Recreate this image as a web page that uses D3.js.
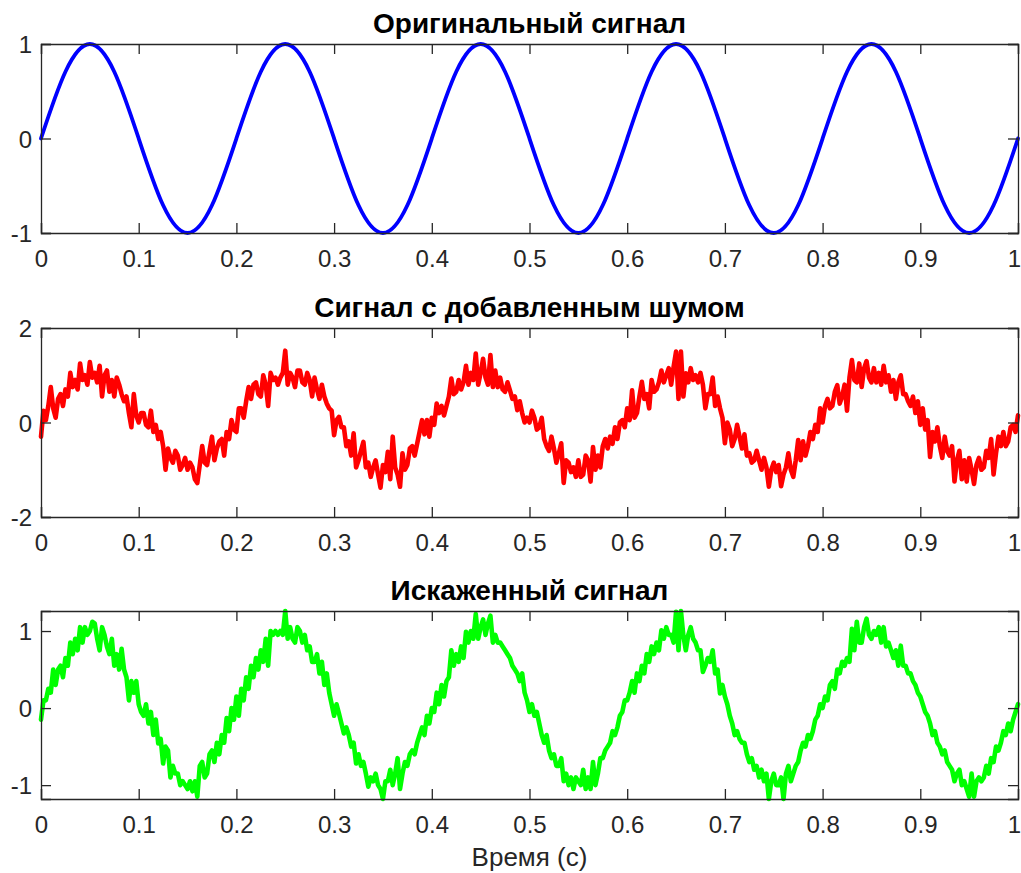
<!DOCTYPE html>
<html><head><meta charset="utf-8">
<script src="https://cdn.jsdelivr.net/npm/d3@7"></script>
<style>body{margin:0;background:#fff}svg{display:block}</style>
</head><body>
<svg id="chart" width="1021" height="873"></svg>
<script>
// ---- data ----
const panelTitles = ["Оригинальный сигнал", "Сигнал с добавленным шумом", "Искаженный сигнал"];
const xLabel = "Время (с)";
const xTicks = [0, 0.1, 0.2, 0.3, 0.4, 0.5, 0.6, 0.7, 0.8, 0.9, 1];
const yTicks1 = [-1, 0, 1];
const yTicks2 = [-2, 0, 2];
const yTicks3 = [-1, 0, 1];
const yLim1 = [-1, 1];
const yLim2 = [-2, 2];
const yLim3 = [-1.18, 1.26];

// original signal, sampled every 0.025 s
const origStep = 0.025;
const original = [
  0, 0.707, 1, 0.707, 0, -0.707, -1, -0.707,
  0, 0.707, 1, 0.707, 0, -0.707, -1, -0.707,
  0, 0.707, 1, 0.707, 0, -0.707, -1, -0.707,
  0, 0.707, 1, 0.707, 0, -0.707, -1, -0.707,
  0, 0.707, 1, 0.707, 0, -0.707, -1, -0.707,
  0
];

const noisyStep = 0.0025;
const noisy = [
  -0.3,0.25,0.05,0.35,0.75,0.3,0.1,0.5,0.6,0.35,0.7,0.55,1.05,0.75,0.9,0.7,1.25,0.9,1.0,0.8,
  1.28,0.95,1.05,0.85,1.2,0.55,1.0,1.1,0.65,0.9,0.55,0.95,0.8,0.6,0.45,0.55,0.2,-0.1,0.6,0.15,
  0.0,0.2,0.2,-0.05,-0.1,0.25,-0.2,-0.05,-0.35,-0.2,-0.5,-1.0,-0.55,-0.75,-0.85,-0.6,-0.7,-1.0,-0.9,-0.75,
  -1.0,-0.85,-0.95,-1.2,-1.28,-0.9,-0.5,-0.85,-0.9,-0.6,-0.3,-0.8,-0.55,-0.4,-0.35,-0.7,-0.2,-0.35,0.05,-0.15,
  -0.2,0.3,0.3,0.1,0.45,0.75,0.5,0.8,0.85,0.6,0.55,1.0,0.8,0.35,1.05,0.9,0.95,0.8,0.95,1.05,
  1.52,0.8,1.05,0.95,0.75,1.1,1.1,0.85,0.8,1.05,0.9,0.55,0.95,0.7,0.5,0.8,0.55,0.4,0.3,0.25,
  -0.27,0.05,0.12,-0.1,-0.1,-0.5,-0.4,-0.7,-0.23,-0.95,-0.8,-0.6,-0.41,-0.95,-0.85,-1.15,-0.95,-0.8,-1.1,-1.38,
  -0.9,-1.05,-0.62,-1.2,-0.3,-0.95,-1.1,-1.36,-0.65,-1.0,-0.9,-0.55,-0.5,-0.7,-0.45,-0.2,0.05,-0.25,0.05,-0.3,
  0.1,-0.05,0.4,0.2,0.35,0.15,0.35,0.55,0.93,0.6,0.65,0.9,0.7,0.85,1.2,0.8,1.05,0.9,1.46,0.8,
  1.05,1.35,0.95,0.8,1.43,0.75,1.1,0.75,0.95,0.7,0.65,0.85,0.68,0.5,0.55,0.26,0.45,0.2,0.0,0.1,
  0.0,0.25,0.1,-0.15,-0.1,0.1,-0.35,-0.5,-0.6,-0.3,-0.55,-0.85,-0.65,-0.44,-1.28,-0.8,-0.85,-1.05,-0.95,-1.15,
  -0.8,-1.15,-1.1,-0.7,-0.8,-1.25,-0.52,-1.0,-0.7,-0.95,-0.5,-0.35,-0.55,-0.3,-0.45,-0.1,-0.35,0.0,0.05,-0.1,
  0.3,0.05,0.68,0.1,0.2,0.55,0.86,0.5,0.6,0.3,0.9,0.65,0.7,0.85,1.1,0.85,1.0,1.15,0.8,1.18,
  1.5,0.5,1.5,0.55,1.04,0.85,1.15,0.9,1.0,0.85,1.05,0.8,0.3,0.6,0.6,0.95,0.35,0.55,0.3,0.1,
  -0.44,0.0,-0.15,-0.5,-0.35,-0.05,-0.3,-0.55,-0.25,-0.7,-0.65,-0.85,-0.8,-0.6,-0.8,-1.0,-0.75,-0.95,-1.36,-1.0,
  -0.85,-1.05,-0.9,-1.35,-1.1,-0.95,-0.65,-1.0,-1.15,-0.8,-0.37,-0.8,-0.4,-0.7,-0.5,-0.2,-0.35,-0.05,-0.2,0.3,
  0.0,0.35,0.5,0.3,0.35,0.65,0.79,0.4,0.55,0.8,0.25,0.95,1.32,0.9,0.85,1.25,0.75,1.15,1.3,0.95,
  0.85,1.15,0.85,1.05,0.8,1.2,0.85,1.0,0.65,0.9,0.5,0.85,1.0,0.6,0.6,0.45,0.35,0.55,0.2,0.45,
  -0.05,0.3,-0.15,0.05,-0.73,-0.2,-0.4,-0.1,-0.5,-0.75,-0.3,-0.6,-0.7,-0.5,-1.25,-0.8,-0.6,-1.2,-0.8,-1.25,
  -0.75,-1.0,-1.3,-0.9,-0.75,-1.0,-0.95,-0.6,-0.75,-0.35,-1.1,-0.65,-0.3,-0.5,-0.2,-0.5,-0.4,-0.1,-0.05,-0.2,
  0.15
];
const distorted = [
  -0.15,0.1,0.1,0.25,0.2,0.5,0.3,0.5,0.55,0.4,0.65,0.55,0.85,0.7,0.9,0.75,1.05,0.85,1.05,0.95,
  1.0,1.12,1.1,0.9,0.75,1.05,0.95,0.8,0.7,0.9,0.55,0.7,0.5,0.77,0.5,0.4,0.1,0.35,0.2,0.35,
  0.05,-0.05,-0.1,0.05,-0.2,-0.05,-0.35,-0.15,-0.46,-0.4,-0.72,-0.5,-0.55,-0.9,-0.75,-0.85,-0.85,-1.0,-0.95,-1.0,
  -1.05,-0.95,-1.08,-0.95,-1.15,-0.75,-0.7,-0.9,-0.85,-0.6,-0.55,-0.7,-0.45,-0.6,-0.35,-0.45,-0.13,-0.3,0.0,-0.15,
  0.15,-0.1,0.25,0.1,0.4,0.25,0.55,0.4,0.65,0.5,0.75,0.6,0.9,0.55,1.0,0.95,1.0,0.95,1.0,0.95,
  1.26,0.9,1.05,0.9,0.85,1.05,1.0,0.85,0.95,0.75,0.8,0.6,0.6,0.7,0.45,0.6,0.3,0.45,0.2,0.05,
  -0.1,0.05,-0.07,-0.2,-0.33,-0.25,-0.35,-0.5,-0.45,-0.72,-0.6,-0.75,-0.7,-0.85,-1.02,-0.9,-0.95,-0.85,-1.0,-1.05,
  -1.18,-0.95,-0.95,-0.8,-1.0,-0.85,-0.65,-1.05,-0.85,-0.7,-0.75,-0.6,-0.55,-0.6,-0.45,-0.35,-0.25,-0.35,-0.1,-0.2,
  0.0,-0.05,0.2,0.05,0.3,0.15,0.35,0.4,0.75,0.55,0.7,0.6,0.8,0.65,0.99,0.85,1.0,0.9,1.22,0.9,
  1.05,1.15,0.95,1.1,1.2,0.85,0.95,0.85,0.85,0.8,0.75,0.7,0.65,0.55,0.5,0.45,0.35,0.45,0.2,0.1,
  -0.05,0.05,-0.1,-0.05,-0.2,-0.35,-0.45,-0.35,-0.55,-0.65,-0.6,-0.75,-0.75,-0.65,-0.95,-0.85,-1.0,-0.9,-1.05,-0.9,
  -0.95,-1.0,-0.8,-1.05,-0.9,-1.05,-0.7,-1.0,-0.85,-0.65,-0.65,-0.55,-0.5,-0.45,-0.3,-0.35,-0.25,-0.1,-0.05,0.1,
  0.1,0.2,0.35,0.2,0.45,0.35,0.55,0.45,0.7,0.6,0.8,0.7,0.85,0.75,1.01,0.9,1.05,0.95,0.95,0.85,
  1.25,0.75,1.26,0.94,0.75,0.95,1.05,0.9,0.85,0.75,0.75,0.47,0.55,0.65,0.6,0.75,0.45,0.5,0.19,0.3,
  0.15,0.05,-0.1,-0.2,-0.35,-0.3,-0.4,-0.45,-0.45,-0.6,-0.7,-0.65,-0.8,-0.75,-0.9,-0.8,-0.95,-0.85,-1.18,-0.95,
  -0.85,-1.0,-1.0,-0.9,-1.18,-0.85,-0.75,-0.95,-0.85,-0.75,-0.7,-0.55,-0.45,-0.5,-0.35,-0.4,-0.3,-0.15,-0.1,0.05,
  0.0,0.15,0.1,0.3,0.35,0.25,0.5,0.45,0.6,0.55,0.65,0.6,1.03,0.75,1.12,0.85,0.85,1.05,1.16,0.95,
  0.9,1.0,0.95,1.05,0.85,1.05,0.8,0.85,0.75,0.65,0.75,0.55,0.81,0.55,0.55,0.45,0.45,0.35,0.3,0.2,
  0.15,0.05,-0.05,-0.1,-0.2,-0.35,-0.3,-0.45,-0.5,-0.6,-0.55,-0.7,-0.75,-0.8,-0.95,-0.85,-0.8,-1.0,-0.95,-1.05,
  -1.15,-0.85,-1.15,-0.95,-0.9,-0.95,-0.9,-0.75,-0.85,-0.65,-0.7,-0.5,-0.55,-0.45,-0.3,-0.35,-0.2,-0.3,-0.15,-0.05,
  0.05
];

// ---- drawing ----
const svg = d3.select("#chart");
const FONT = "'Liberation Sans', Arial, Helvetica, sans-serif";
const AXC = "#262626";
const left = 41, right = 1018;
const panels = [
  {top: 44,  bottom: 233, title: panelTitles[0], yLim: yLim1, yTicks: yTicks1, values: original,  step: origStep,  color: "#0000ff", curve: d3.curveNatural, width: 3.8},
  {top: 328, bottom: 517, title: panelTitles[1], yLim: yLim2, yTicks: yTicks2, values: noisy,     step: noisyStep, color: "#ff0000", curve: d3.curveLinear,  width: 4.6},
  {top: 611, bottom: 799, title: panelTitles[2], yLim: yLim3, yTicks: yTicks3, values: distorted, step: noisyStep, color: "#00ff00", curve: d3.curveLinear,  width: 4.6}
];

const x = d3.scaleLinear().domain([0, 1]).range([left, right]);
const tickLen = 10;
const fmt = d => String(d);

panels.forEach(p => {
  const y = d3.scaleLinear().domain(p.yLim).range([p.bottom, p.top]);
  const g = svg.append("g");

  // data line
  const pts = p.values.map((v, i) => [i * p.step, v]);
  g.append("path")
    .datum(pts)
    .attr("fill", "none")
    .attr("stroke", p.color)
    .attr("stroke-width", p.width)
    .attr("stroke-linejoin", "round")
    .attr("stroke-linecap", "round")
    .attr("d", d3.line().x(d => x(d[0])).y(d => y(d[1])).curve(p.curve));

  // axes (box with inward ticks on all sides)
  const bottomAx = d3.axisBottom(x).tickValues(xTicks).tickSize(-tickLen).tickPadding(0).tickFormat(fmt);
  const topAx = d3.axisTop(x).tickValues(xTicks).tickSize(-tickLen).tickFormat("");
  const leftAx = d3.axisLeft(y).tickValues(p.yTicks).tickSize(-tickLen).tickPadding(0).tickFormat(fmt);
  const rightAx = d3.axisRight(y).tickValues(p.yTicks).tickSize(-tickLen).tickFormat("");

  const gb = g.append("g").attr("transform", `translate(0,${p.bottom})`).call(bottomAx);
  const gt = g.append("g").attr("transform", `translate(0,${p.top})`).call(topAx);
  const gl = g.append("g").attr("transform", `translate(${left},0)`).call(leftAx);
  const gr = g.append("g").attr("transform", `translate(${right},0)`).call(rightAx);

  [gb, gt, gl, gr].forEach(a => {
    a.attr("font-size", null).attr("font-family", null);
    a.select(".domain").attr("stroke", AXC).attr("stroke-width", 1.3);
    a.selectAll(".tick line").attr("stroke", AXC).attr("stroke-width", 1.3);
    a.selectAll(".tick text").attr("fill", AXC).style("font-family", FONT).style("font-size", "24px");
  });
  gb.selectAll(".tick text").attr("y", 0).attr("dy", null)
    .attr("transform", "translate(0,34)");
  // keep the last label inside the page
  gb.selectAll(".tick text").filter(d => d === 1).attr("text-anchor", "end").attr("x", 2.5);
  gl.selectAll(".tick text").attr("x", -9).attr("dy", "0.36em");

  // title
  svg.append("text")
    .attr("x", (left + right) / 2)
    .attr("y", p.top - 11.5)
    .attr("text-anchor", "middle")
    .style("font-family", FONT)
    .style("font-size", "28px")
    .style("font-weight", "bold")
    .attr("fill", "#000")
    .text(p.title);
});

svg.append("text")
  .attr("x", (left + right) / 2)
  .attr("y", 866)
  .attr("text-anchor", "middle")
  .style("font-family", FONT)
  .style("font-size", "26px")
  .attr("fill", AXC)
  .text(xLabel);
</script>
</body></html>
